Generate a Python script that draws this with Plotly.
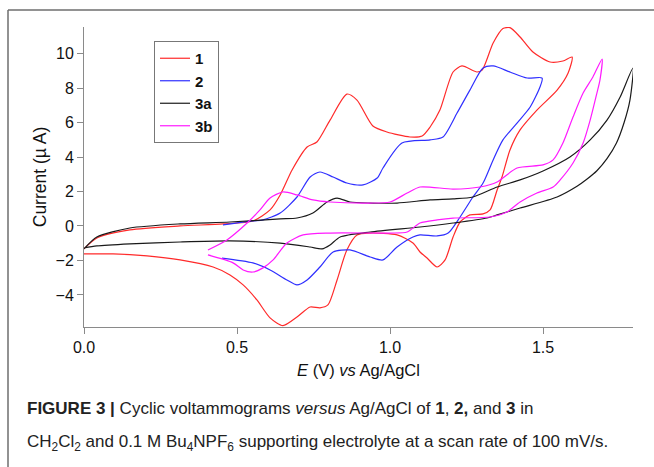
import plotly.graph_objects as go

# ---- data (E in V vs Ag/AgCl, current in µA) ----
# Compound 1 (red): forward scan then reverse scan
e1 = [0.000, 0.042, 0.150, 0.314, 0.454, 0.552, 0.608, 0.641, 0.680, 0.729, 0.761, 0.804,
      0.859, 0.892, 0.944, 0.990, 1.065, 1.105, 1.131, 1.163, 1.206, 1.235, 1.284, 1.301,
      1.337, 1.369, 1.392, 1.425, 1.467, 1.523, 1.565, 1.595,
      1.582, 1.546, 1.480, 1.425, 1.392, 1.366, 1.350, 1.327, 1.304, 1.261, 1.229, 1.206,
      1.180, 1.154, 1.121, 1.098, 1.075, 1.023, 0.935, 0.892, 0.859, 0.827, 0.797, 0.771,
      0.739, 0.696, 0.650, 0.608, 0.565, 0.520, 0.477, 0.422, 0.314, 0.206, 0.095, 0.000]
i1 = [-1.33, -0.70, -0.23, 0.00, 0.12, 0.29, 0.93, 1.80, 3.25, 4.58, 4.87, 6.14,
      7.65, 7.30, 5.80, 5.45, 5.16, 5.22, 5.74, 6.72, 8.93, 9.28, 8.93, 9.04,
      10.61, 11.45, 11.50, 10.96, 10.09, 9.51, 9.57, 9.80,
      8.87, 7.88, 6.72, 5.57, 4.41, 2.84, 2.09, 0.93, 0.70, 0.64, 0.23, -0.64,
      -1.97, -2.38, -1.86, -1.51, -0.99, -0.52, -0.41, -0.52, -1.39, -3.13, -4.58, -4.75,
      -4.70, -5.28, -5.78, -5.33, -4.29, -3.42, -2.84, -2.38, -1.97, -1.74, -1.62, -1.62]

# Compound 2 (blue)
e2 = [0.454, 0.552, 0.585, 0.641, 0.696, 0.739, 0.771, 0.814, 0.859, 0.912, 0.958, 0.977,
      1.039, 1.131, 1.173, 1.219, 1.261, 1.304, 1.337, 1.392, 1.448, 1.497,
      1.490, 1.458, 1.415, 1.369, 1.337, 1.304, 1.271, 1.229, 1.190, 1.154, 1.098, 1.075,
      1.023, 0.977, 0.935, 0.869, 0.814, 0.771, 0.729, 0.696, 0.663, 0.608, 0.552, 0.451]
i2 = [0.06, 0.29, 0.35, 0.75, 1.68, 2.84, 3.13, 2.84, 2.49, 2.38, 2.78, 3.36,
      4.81, 4.99, 5.16, 6.55, 7.88, 9.16, 9.28, 8.93, 8.58, 8.58,
      8.06, 6.90, 5.97, 4.99, 3.83, 2.49, 1.68, 0.52, -0.41, -0.58, -0.52, -0.64,
      -1.22, -1.97, -1.80, -1.39, -1.51, -2.38, -3.13, -3.42, -3.13, -2.55, -2.14, -1.86]

# Compound 3a (black)
e3a = [0.000, 0.042, 0.150, 0.314, 0.477, 0.641, 0.696, 0.748, 0.794, 0.827, 0.869, 0.935,
       1.023, 1.131, 1.206, 1.271, 1.350, 1.425, 1.500, 1.588, 1.654, 1.709, 1.752, 1.794,
       1.784, 1.765, 1.740, 1.709, 1.676, 1.644, 1.611, 1.546, 1.425, 1.350, 1.317, 1.206,
       1.098, 0.935, 0.837, 0.804, 0.778, 0.739, 0.641, 0.477, 0.314, 0.150, 0.042, 0.000]
i3a = [-1.33, -0.64, -0.12, 0.12, 0.23, 0.41, 0.46, 0.75, 1.39, 1.62, 1.39, 1.33,
       1.33, 1.51, 1.57, 1.68, 2.26, 2.67, 3.19, 4.00, 4.99, 6.14, 7.48, 9.16,
       7.30, 6.00, 4.81, 3.90, 3.20, 2.72, 2.30, 1.68, 1.04, 0.64, 0.46, 0.17,
       -0.06, -0.35, -0.64, -1.10, -1.33, -1.22, -0.99, -0.87, -0.93, -1.04, -1.16, -1.28]

# Compound 3b (magenta)
e3b = [0.405, 0.467, 0.533, 0.575, 0.608, 0.650, 0.696, 0.748, 0.804, 0.935, 1.000, 1.056,
       1.098, 1.206, 1.294, 1.350, 1.415, 1.500, 1.533, 1.565, 1.598, 1.631, 1.663, 1.693,
       1.686, 1.676, 1.654, 1.631, 1.598, 1.556, 1.533, 1.480, 1.425, 1.382, 1.327, 1.206,
       1.154, 1.098, 1.056, 1.000, 0.804, 0.716, 0.663, 0.618, 0.585, 0.552, 0.520, 0.487, 0.405]
i3b = [-1.39, -0.81, 0.17, 0.93, 1.62, 1.97, 1.80, 1.51, 1.39, 1.33, 1.39, 1.91,
       2.26, 2.14, 2.26, 2.55, 3.36, 3.54, 3.83, 4.81, 6.32, 7.71, 8.64, 9.68,
       8.46, 7.71, 6.14, 4.81, 3.65, 2.67, 2.26, 1.91, 1.39, 0.81, 0.52, 0.46,
       0.35, 0.17, -0.35, -0.41, -0.41, -0.52, -0.99, -1.97, -2.43, -2.67, -2.55, -2.14, -1.68]

names = ["1", "2", "3a", "3b"]
colors = ["#ff2a2a", "#2f2fff", "#1a1a1a", "#ff1aff"]
series = [(e1, i1), (e2, i2), (e3a, i3a), (e3b, i3b)]

x_ticks = [0.0, 0.5, 1.0, 1.5]
x_ticklabels = ["0.0", "0.5", "1.0", "1.5"]
y_ticks = [-4, -2, 0, 2, 4, 6, 8, 10]

fig = go.Figure()
for name, col, (ex, iy) in zip(names, colors, series):
    fig.add_trace(go.Scatter(x=ex, y=iy, mode="lines", name="<b>%s</b>" % name,
                             line=dict(color=col, width=1.2, shape="spline", smoothing=0.7)))

axis_col = "#8a8a8a"
W, H = 654, 467
L, R, T, B = 84, 21, 27, 140
pw = W - L - R
ph = H - T - B

def px(xp):
    return (xp - L) / pw

def py(yp):
    return (H - B - yp) / ph

fig.update_layout(
    width=W, height=H,
    margin=dict(l=L, r=R, t=T, b=B),
    paper_bgcolor="white", plot_bgcolor="white",
    font=dict(family="Liberation Sans, Arial, sans-serif", color="#111", size=16),
    showlegend=True,
    legend=dict(x=px(154), y=py(41), xanchor="left", yanchor="top",
                bordercolor="#777", borderwidth=1, bgcolor="white",
                font=dict(size=15, family="Liberation Sans, Arial"),
                itemwidth=30, tracegroupgap=0),
    xaxis=dict(range=[0, 1.794], showgrid=False, zeroline=False,
               showline=True, linecolor=axis_col, linewidth=1,
               ticks="outside", ticklen=6, tickcolor=axis_col,
               tickvals=x_ticks, ticktext=x_ticklabels,
               tickfont=dict(size=16),
               title=dict(text="<i>E</i> (V) <i>vs</i> Ag/AgCl", font=dict(size=16.5), standoff=9)),
    yaxis=dict(range=[-5.86, 11.54], showgrid=False, zeroline=False,
               showline=True, linecolor=axis_col, linewidth=1,
               ticks="outside", ticklen=6, tickcolor=axis_col,
               tickvals=y_ticks, tickfont=dict(size=16),
               title=dict(text="Current (µ A)", font=dict(size=17.5), standoff=4)),
)

# outer frame (top and left edges visible)
fig.add_shape(type="line", xref="paper", yref="paper", x0=px(8), x1=px(660), y0=py(10), y1=py(10),
              line=dict(color="#6e6e6e", width=1.5))
fig.add_shape(type="line", xref="paper", yref="paper", x0=px(8), x1=px(8), y0=py(10), y1=py(470),
              line=dict(color="#6e6e6e", width=1.5))

cap_font = dict(family="Liberation Sans, Arial", size=17, color="#222")
fig.add_annotation(xref="paper", yref="paper", x=px(25), y=py(408), xanchor="left", yanchor="middle",
                   showarrow=False, font=cap_font, align="left",
                   text="<b>FIGURE 3 |</b> Cyclic voltammograms <i>versus</i> Ag/AgCl of <b>1</b>, <b>2,</b> and <b>3</b> in")
fig.add_annotation(xref="paper", yref="paper", x=px(25), y=py(443), xanchor="left", yanchor="middle",
                   showarrow=False, font=cap_font, align="left",
                   text="CH<sub>2</sub>Cl<sub>2</sub> and 0.1 M Bu<sub>4</sub>NPF<sub>6</sub> supporting electrolyte at a scan rate of 100 mV/s.")

fig.write_html("out.html")
